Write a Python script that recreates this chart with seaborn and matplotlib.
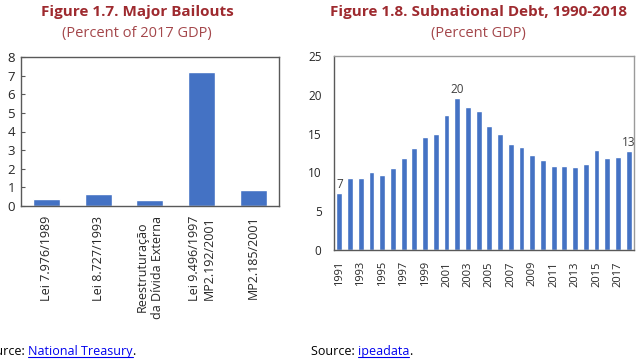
import matplotlib
matplotlib.use("Agg")
import matplotlib.pyplot as plt
import seaborn as sns
import pandas as pd
from matplotlib.lines import Line2D

# Data
bailout_labels = ["Lei 7.976/1989", "Lei 8.727/1993", "Reestruturação\nda Dívida Externa",
                  "Lei 9.496/1997\nMP2.192/2001", "MP2.185/2001"]
bailout_values = [0.36, 0.63, 0.32, 7.19, 0.84]

years = [str(y) for y in range(1991, 2019)]
debt_values = [7.3, 9.3, 9.3, 10.0, 9.7, 10.6, 11.9, 13.2, 14.6, 14.9, 17.4, 19.6, 18.4, 17.9,
               16.0, 15.0, 13.7, 13.3, 12.2, 11.6, 10.8, 10.8, 10.7, 11.1, 12.9, 11.9, 12.0, 12.7]
labeled_years = ["1991", "2002", "2018"]

sns.set_style("white")
plt.rcParams['font.family'] = ['Open Sans', 'DejaVu Sans']

W, H = 636, 359
fig = plt.figure(figsize=(W / 100, H / 100), dpi=100)

def px_axes(x0, x1, ytop, ybot):
    return fig.add_axes([x0 / W, 1 - ybot / H, (x1 - x0) / W, (ybot - ytop) / H])

bar_color = "#4472C4"
spine_color = "#595959"
title_color = "#9e2a2f"
sub_color = "#a4474b"

# Left chart
ax1 = px_axes(20.7, 279, 57, 206)
df1 = pd.DataFrame({"label": bailout_labels, "value": bailout_values})
sns.barplot(data=df1, x="label", y="value", ax=ax1, color=bar_color, saturation=1, width=0.52)
ax1.set_xlim(-0.5, 4.5)
ax1.set_ylim(0, 8)
ax1.set_yticks(range(0, 9))
ax1.set_xlabel("")
ax1.set_ylabel("")
ax1.tick_params(axis="y", direction="in", length=3, color=spine_color, labelsize=9.5, pad=4, left=True)
ax1.tick_params(axis="x", length=0, labelsize=9, pad=7)
for lbl in ax1.get_xticklabels():
    lbl.set_rotation(90)
    lbl.set_ha("center")
    lbl.set_va("top")
    lbl.set_multialignment("center")
for s in ax1.spines.values():
    s.set_color(spine_color)
    s.set_linewidth(1)

# Right chart
ax2 = px_axes(334, 634, 56, 250)
df2 = pd.DataFrame({"year": years, "value": debt_values})
sns.barplot(data=df2, x="year", y="value", ax=ax2, color=bar_color, saturation=1, width=0.55)
ax2.set_xlim(-0.5, len(years) - 0.5)
ax2.set_ylim(0, 25)
ax2.set_yticks(range(0, 26, 5))
ax2.set_xticks(range(0, len(years), 2))
ax2.set_xticklabels(years[::2], rotation=90)
ax2.set_xlabel("")
ax2.set_ylabel("")
ax2.tick_params(axis="y", length=0, labelsize=8.5, pad=9)
ax2.tick_params(axis="x", length=0, labelsize=8, pad=8)
for s in ax2.spines.values():
    s.set_color(spine_color)
    s.set_linewidth(1)
ax2.spines["top"].set_color("#9a9a9a")
ax2.spines["right"].set_color("#9a9a9a")
for i, (y, v) in enumerate(zip(years, debt_values)):
    if y in labeled_years:
        ax2.text(i, v + 0.3, f"{v:.0f}", ha="center", va="bottom", fontsize=8.5, color="#404040")

# Titles
fig.text(137 / W, 1 - 12 / H, "Figure 1.7. Major Bailouts", ha="center", va="center",
         fontsize=11, fontweight="bold", color=title_color)
fig.text(137 / W, 1 - 34 / H, "(Percent of 2017 GDP)", ha="center", va="center",
         fontsize=10.5, color=sub_color)
fig.text(478 / W, 1 - 12 / H, "Figure 1.8. Subnational Debt, 1990-2018", ha="center", va="center",
         fontsize=11, fontweight="bold", color=title_color)
fig.text(478 / W, 1 - 34 / H, "(Percent GDP)", ha="center", va="center",
         fontsize=10.5, color=sub_color)

# Source lines with link-style text
fig.canvas.draw()
renderer = fig.canvas.get_renderer()

def source_line(x_px, y_px, link):
    x = x_px
    for part, col, underline in [("Source: ", "black", False), (link, "#0000ee", True), (".", "black", False)]:
        t = fig.text(x / W, 1 - y_px / H, part, ha="left", va="baseline", fontsize=9, color=col)
        bb = t.get_window_extent(renderer)
        if underline:
            yb = (1 - y_px / H) - 2 / H
            fig.add_artist(Line2D([bb.x0 / W, bb.x1 / W], [yb, yb], color=col, lw=0.8,
                                  transform=fig.transFigure))
        x = bb.x1

source_line(-19, 355, "National Treasury")
source_line(311, 355, "ipeadata")

fig.savefig("out.png", dpi=100)
